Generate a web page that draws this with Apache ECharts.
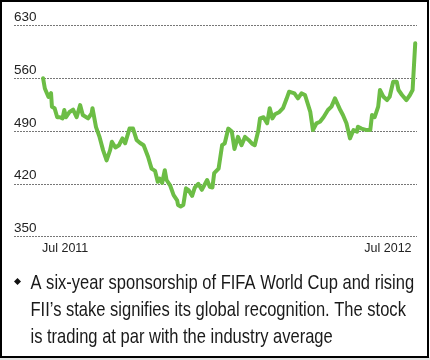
<!DOCTYPE html>
<html>
<head>
<meta charset="utf-8">
<script src="https://cdn.jsdelivr.net/npm/echarts@6/dist/echarts.min.js"></script>
<style>
html,body{margin:0;padding:0;background:#fff;}
#c{width:430px;height:360px;}
</style>
</head>
<body>
<div id="c"></div>
<script>
// days since 1 Jul 2011
var days = [-25,-23,-21,-19,-16,-15,-12,-9,-6,-3,-1,1,5,9,13,17,20,26,30,31,35,39,43,47,51,53,57,61,65,68,73,77,81,85,89,94,98,102,105,107,110,113,115,119,123,127,128,131,134,137,140,144,147,151,155,157,161,164,167,169,174,178,181,185,189,192,194,196,200,204,208,212,215,219,221,223,225,227,229,232,235,238,240,243,247,251,254,260,264,268,272,278,281,285,289,293,298,302,306,312,315,319,323,327,331,332,336,342,346,348,351,355,357,361,365,368,372,376,378,382,387,391,394,397];
var prices = [559.5,546,548,535,540,522,520,508,508,506.5,517.5,508,515,518,508,524,511,506.5,513,520,495,482,464.5,451,464.5,475.6,468,471,480,473.5,493,493,478,474,471,455.7,440,437,422.6,427,421,438,425,418,405,398,392,390,392,414,411.6,404,415,420,412,410,425,416,415,434,440,471,473.5,493,489,466,464.5,482,471,482,478,473,471,490,506.5,505,508,506,500,520,506.5,512,514,515,520,532,541.8,539.6,533,539.6,537.4,515,491,500,502,508,517.5,522,533,517.5,511,500,480,491,489,495.5,493,491,491,511,508,522,544,535,530.7,535,555,555,544,537.4,530.7,537.4,544,606];
var xTickDays = [0, 366];
var xTickLabels = ['Jul 2011', 'Jul 2012'];
var yTicks = [350, 420, 490, 560, 630];
var note = 'A six-year sponsorship of FIFA World Cup and rising\nFII\u2019s stake signifies its global recognition. The stock\nis trading at par with the industry average';

var font = '"Liberation Sans", Arial, sans-serif';
var chart = echarts.init(document.getElementById('c'), null, {renderer: 'canvas'});
var seriesData = days.map(function (d, i) { return [d, prices[i]]; });
chart.setOption({
  animation: false,
  backgroundColor: '#fff',
  grid: {left: 14, right: 13, top: 25, bottom: 123.3, containLabel: false},
  xAxis: {
    type: 'value', min: -58, max: 399,
    axisLine: {show: false}, axisTick: {show: false}, splitLine: {show: false},
    axisLabel: {
      customValues: xTickDays,
      formatter: function (v) { var i = xTickDays.indexOf(v); return i >= 0 ? xTickLabels[i] : ''; },
      color: '#222', fontFamily: font, fontSize: 12.5, margin: 5
    }
  },
  yAxis: {
    type: 'value', min: yTicks[0], max: yTicks[yTicks.length - 1], interval: 70,
    axisLine: {show: false}, axisTick: {show: false},
    splitLine: {show: true, lineStyle: {color: '#777', width: 1, type: [2, 1]}},
    axisLabel: {
      inside: true, margin: 0, verticalAlign: 'bottom', align: 'left',
      color: '#222', fontFamily: font, fontSize: 13.5, padding: [0, 0, 1, 0]
    }
  },
  series: [{
    type: 'line', data: seriesData, showSymbol: false, symbol: 'none',
    lineStyle: {color: '#6cbd45', width: 4, join: 'round', cap: 'round'}
  }],
  graphic: [
    {type: 'rect', left: 0, top: 357, shape: {width: 430, height: 3}, style: {fill: '#e4e4e4'}, silent: true},
    {type: 'rect', shape: {x: 1, y: 1, width: 427, height: 356}, style: {fill: null, stroke: '#000', lineWidth: 2}, silent: true},
    {type: 'polygon', shape: {points: [[17.5, 278], [21, 281.5], [17.5, 285], [14, 281.5]]}, style: {fill: '#111'}, silent: true},
    {type: 'text', x: 30.5, y: 269.5, scaleX: 0.787, style: {text: note, fontFamily: font, fontSize: 21, lineHeight: 27, fill: '#1a1a1a'}, silent: true}
  ]
});
</script>
</body>
</html>
